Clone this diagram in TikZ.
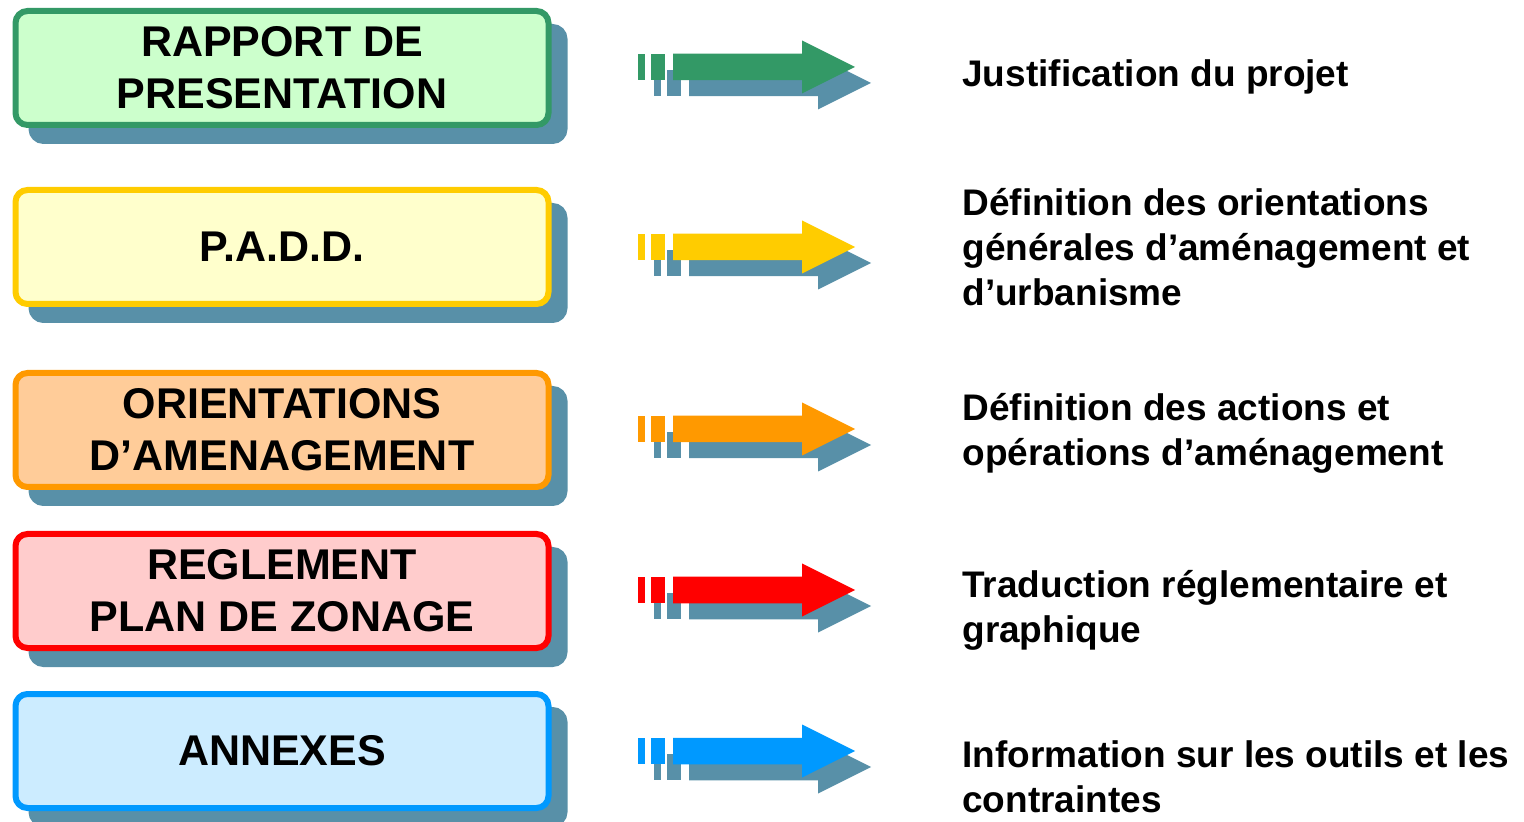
\documentclass[tikz,border=0pt]{standalone}
\usepackage{fontspec}
\setmainfont{Liberation Sans}
\usepackage{tikz}
\usepackage{xcolor}

\definecolor{ombre}{HTML}{5890A8}
\definecolor{vert}{HTML}{339966}
\definecolor{vertclair}{HTML}{CCFFCC}
\definecolor{jaune}{HTML}{FFCC00}
\definecolor{jauneclair}{HTML}{FFFFCC}
\definecolor{orange}{HTML}{FF9900}
\definecolor{orangeclair}{HTML}{FFCC99}
\definecolor{rouge}{HTML}{FF0000}
\definecolor{rougeclair}{HTML}{FFCCCC}
\definecolor{bleu}{HTML}{0099FF}
\definecolor{bleuclair}{HTML}{CCECFF}

\begin{document}
\begin{tikzpicture}[x=0.5pt, y=-0.5pt,
  piece/.style={line width=3pt, rounded corners=6pt, minimum width=266.5pt,
    minimum height=57pt, inner sep=0pt, align=center,
    font=\fontsize{21.5}{26}\selectfont\bfseries,
    preaction={draw=ombre, fill=ombre, transform canvas={shift={(8pt,-8pt)}}}},
  note/.style={anchor=base west, inner sep=0pt, align=left,
    font=\fontsize{18.5}{22.5}\selectfont\bfseries},
  pics/fleche/.style={code={
    \fill[#1] (0,-13.25) rectangle (6.5,13.25);
    \fill[#1] (13,-13.25) rectangle (27,13.25);
    \fill[#1] (35,-13.25) -- (164,-13.25) -- (164,-26.5) -- (217,0)
      -- (164,26.5) -- (164,13.25) -- (35,13.25) -- cycle;
  }}]
  \useasboundingbox (0,0) rectangle (1524,822);

  % Pieces du dossier
  \node[piece, draw=vert, fill=vertclair] (rapport) at (282,68) {RAPPORT DE\\PRESENTATION};
  \node[piece, draw=jaune, fill=jauneclair] (padd) at (282,247) {P.A.D.D.};
  \node[piece, draw=orange, fill=orangeclair] (orient) at (282,430) {ORIENTATIONS\\D’AMENAGEMENT};
  \node[piece, draw=rouge, fill=rougeclair] (reglement) at (282,591) {REGLEMENT\\PLAN DE ZONAGE};
  \node[piece, draw=bleu, fill=bleuclair] (annexes) at (282,751) {ANNEXES};

  % Fleches
  \pic at (654,83) {fleche=ombre};
  \pic at (638,67) {fleche=vert};
  \pic at (654,263) {fleche=ombre};
  \pic at (638,247) {fleche=jaune};
  \pic at (654,445) {fleche=ombre};
  \pic at (638,429) {fleche=orange};
  \pic at (654,606) {fleche=ombre};
  \pic at (638,590) {fleche=rouge};
  \pic at (654,767) {fleche=ombre};
  \pic at (638,751) {fleche=bleu};

  % Contenu (base = derniere ligne)
  \node[note] (justif) at (962,87) {Justification du projet};
  \node[note] (defor) at (962,306) {Définition des orientations\\générales d’aménagement et\\d’urbanisme};
  \node[note] (defact) at (962,466) {Définition des actions et\\opérations d’aménagement};
  \node[note] (trad) at (962,642) {Traduction réglementaire et\\graphique};
  \node[note] (info) at (962,812) {Information sur les outils et les\\contraintes};
\end{tikzpicture}
\end{document}
